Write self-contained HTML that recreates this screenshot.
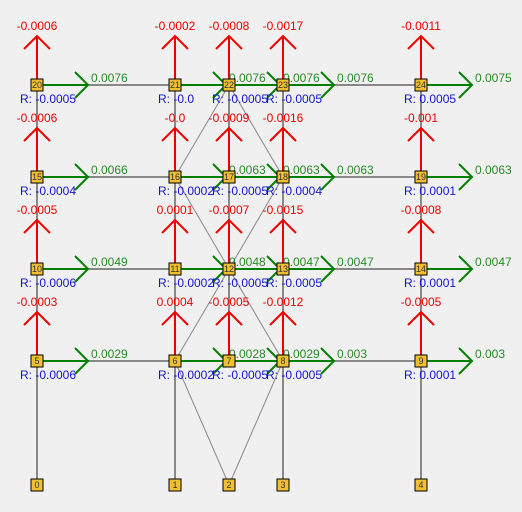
<!DOCTYPE html>
<html><head><meta charset="utf-8"><style>
html,body{margin:0;padding:0;background:#f0f0f0;}
svg{display:block;font-family:"Liberation Sans",sans-serif;}
</style></head><body>
<svg width="522" height="512" viewBox="0 0 522 512" xmlns="http://www.w3.org/2000/svg">
<g stroke="#888" stroke-width="2">
<line x1="37" y1="485" x2="37" y2="85"/>
<line x1="175" y1="485" x2="175" y2="85"/>
<line x1="283" y1="485" x2="283" y2="85"/>
<line x1="421" y1="485" x2="421" y2="85"/>
<line x1="229" y1="361" x2="229" y2="85"/>
<line x1="37" y1="85" x2="421" y2="85"/>
<line x1="37" y1="177" x2="421" y2="177"/>
<line x1="37" y1="269" x2="421" y2="269"/>
<line x1="37" y1="361" x2="421" y2="361"/>
</g>
<g stroke="#888" stroke-width="1">
<line x1="229" y1="85" x2="175" y2="177"/>
<line x1="229" y1="85" x2="283" y2="177"/>
<line x1="175" y1="177" x2="283" y2="361"/>
<line x1="283" y1="177" x2="175" y2="361"/>
<line x1="229" y1="485" x2="175" y2="361"/>
<line x1="229" y1="485" x2="283" y2="361"/>
</g>
<g id="arrows"></g>
<g id="nodes"></g>
</svg>
<script>
(function(){
var xs=[37,175,229,283,421], ys=[361,269,177,85];
var red=[["-0.0003","0.0004","-0.0005","-0.0012","-0.0005"],["-0.0005","0.0001","-0.0007","-0.0015","-0.0008"],["-0.0006","-0.0","-0.0009","-0.0016","-0.001"],["-0.0006","-0.0002","-0.0008","-0.0017","-0.0011"]];
var grn=[["0.0029","0.0028","0.0029","0.003","0.003"],["0.0049","0.0048","0.0047","0.0047","0.0047"],["0.0066","0.0063","0.0063","0.0063","0.0063"],["0.0076","0.0076","0.0076","0.0076","0.0075"]];
var rr=[["-0.0006","-0.0002","-0.0005","-0.0005","0.0001"],["-0.0006","-0.0002","-0.0005","-0.0005","0.0001"],["-0.0004","-0.0002","-0.0005","-0.0004","0.0001"],["-0.0005","-0.0","-0.0005","-0.0005","0.0005"]];
var a="",n="";
function box(x,y,id){return '<rect x="'+(x-6)+'" y="'+(y-6)+'" width="12" height="12" fill="#f0c030" stroke="#000" stroke-width="1"/><text x="'+x+'" y="'+(y+3)+'" font-size="9" text-anchor="middle" fill="#333">'+id+'</text>';}
for(var r=0;r<4;r++)for(var c=0;c<5;c++){
var x=xs[c],y=ys[r];
a+='<g stroke="#e00" stroke-width="2" fill="none"><line x1="'+x+'" y1="'+y+'" x2="'+x+'" y2="'+(y-49)+'"/><polyline points="'+(x-13)+','+(y-36)+' '+x+','+(y-49)+' '+(x+13)+','+(y-36)+'"/></g>';
a+='<g stroke="#008000" stroke-width="2" fill="none"><line x1="'+x+'" y1="'+y+'" x2="'+(x+51)+'" y2="'+y+'"/><polyline points="'+(x+38)+','+(y-13)+' '+(x+51)+','+y+' '+(x+38)+','+(y+13)+'"/></g>';
a+='<text x="'+x+'" y="'+(y-55)+'" fill="#e00" font-size="12" text-anchor="middle">'+red[r][c]+'</text>';
a+='<text x="'+(x+54)+'" y="'+(y-3)+'" fill="#2a8a2a" font-size="12">'+grn[r][c]+'</text>';
a+='<text x="'+(x-17)+'" y="'+(y+18)+'" fill="#1515d0" font-size="12">R: '+rr[r][c]+'</text>';
n+=box(x,y,5+r*5+c);
}
for(var c=0;c<5;c++){n+=box(xs[c],485,c);}
document.getElementById("arrows").innerHTML=a;
document.getElementById("nodes").innerHTML=n;
})();
</script>
</body></html>
